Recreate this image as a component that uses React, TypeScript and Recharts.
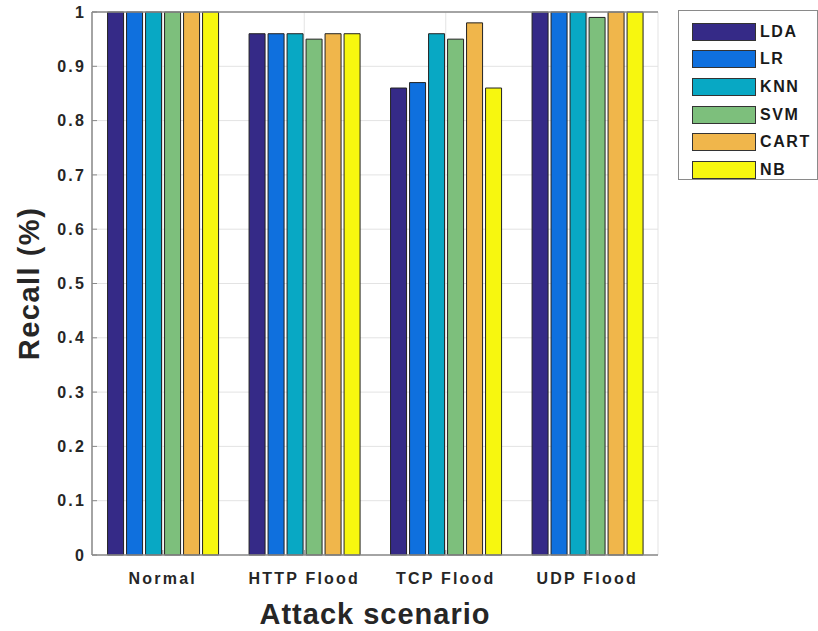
import React from 'react';
import { BarChart, Bar, XAxis, YAxis, CartesianGrid, ReferenceLine } from 'recharts';

const categories = ['Normal', 'HTTP Flood', 'TCP Flood', 'UDP Flood'];
const ldaValues = [1, 0.96, 0.86, 1];
const lrValues = [1, 0.96, 0.87, 1];
const knnValues = [1, 0.96, 0.96, 1];
const svmValues = [1, 0.95, 0.95, 0.99];
const cartValues = [1, 0.96, 0.98, 1];
const nbValues = [1, 0.96, 0.86, 1];
const yTicks = [0, 0.1, 0.2, 0.3, 0.4, 0.5, 0.6, 0.7, 0.8, 0.9, 1];

const seriesNames = ['LDA', 'LR', 'KNN', 'SVM', 'CART', 'NB'];
const seriesValues = [ldaValues, lrValues, knnValues, svmValues, cartValues, nbValues];
const seriesColors = ['#352a87', '#0f70de', '#08a8c4', '#7dbf7c', '#f0b64b', '#f7f70f'];

const data = categories.map((c, i) => {
  const row: Record<string, string | number> = { name: c };
  seriesNames.forEach((s, j) => {
    row[s] = seriesValues[j][i];
  });
  return row;
});

const FONT = '"Liberation Sans", Arial, Helvetica, sans-serif';
const FRAME = '#8a8a8a';
const tickStyle = { fill: '#262626', fontSize: 16, fontWeight: 'bold', fontFamily: FONT, letterSpacing: 2.2 };

const LegendBox = () => (
  <div
    style={{
      position: 'absolute',
      left: 678,
      top: 10,
      width: 140,
      height: 170,
      border: '1px solid ' + FRAME,
      background: '#fff',
      boxSizing: 'border-box',
      paddingTop: 7,
      fontFamily: FONT,
    }}
  >
    {seriesNames.map((s, i) => (
      <div key={s} style={{ display: 'flex', alignItems: 'center', height: 27.6 }}>
        <div
          style={{
            marginLeft: 13,
            width: 64,
            height: 18,
            background: seriesColors[i],
            border: '1px solid #333',
            boxSizing: 'border-box',
          }}
        />
        <span style={{ marginLeft: 4, fontSize: 16, letterSpacing: 1.6, fontWeight: 'bold', color: '#1a1a1a' }}>{s}</span>
      </div>
    ))}
  </div>
);

export default function App() {
  return (
    <div style={{ position: 'absolute', left: 0, top: 0, width: 818, height: 631, background: '#fff' }}>
      <BarChart
        width={818}
        height={631}
        data={data}
        margin={{ top: 12, right: 160, left: 0, bottom: 0 }}
        barCategoryGap="11%"
        barGap={3}
      >
        <CartesianGrid stroke="#e3e3e3" strokeWidth={1} yAxisId="left" />
        <XAxis
          dataKey="name"
          height={76}
          axisLine={{ stroke: FRAME, strokeWidth: 1.5 }}
          tickLine={{ stroke: FRAME }}
          tickSize={-5}
          tickMargin={23}
          tick={tickStyle}
          label={{
            value: 'Attack scenario',
            position: 'insideBottom',
            offset: 7,
            style: { fill: '#262626', fontSize: 29, letterSpacing: 1, fontWeight: 'bold', fontFamily: FONT },
          }}
        />
        <YAxis
          yAxisId="left"
          width={92}
          domain={[0, 1]}
          ticks={yTicks}
          interval={0}
          axisLine={{ stroke: FRAME, strokeWidth: 1.5 }}
          tickLine={{ stroke: FRAME }}
          tickSize={-5}
          tickMargin={11}
          tick={tickStyle}
          label={{
            value: 'Recall (%)',
            angle: -90,
            position: 'insideLeft',
            offset: 29,
            style: { textAnchor: 'middle', fill: '#262626', fontSize: 29, letterSpacing: 1.5, fontWeight: 'bold', fontFamily: FONT },
          }}
        />
        <YAxis
          yAxisId="right"
          orientation="right"
          width={0}
          domain={[0, 1]}
          ticks={yTicks}
          interval={0}
          axisLine={{ stroke: FRAME, strokeWidth: 1.5 }}
          tickLine={{ stroke: FRAME }}
          tickSize={-5}
          tick={false}
        />
        {seriesNames.map((s, i) => (
          <Bar
            key={s}
            dataKey={s}
            yAxisId="left"
            fill={seriesColors[i]}
            stroke="#222"
            strokeWidth={1}
            isAnimationActive={false}
          />
        ))}
        <ReferenceLine y={1} yAxisId="left" stroke={FRAME} strokeWidth={1.5} />
      </BarChart>
      <LegendBox />
    </div>
  );
}
